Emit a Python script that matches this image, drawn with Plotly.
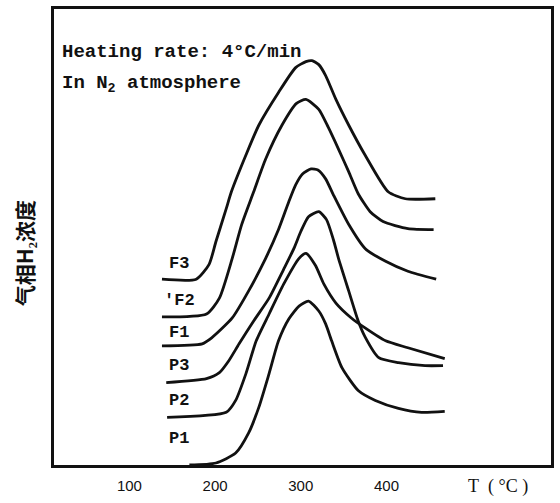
import plotly.graph_objects as go

# ---- data (temperature in °C, signal in arbitrary units) ----
F3_T = [138, 178, 193, 201, 213, 219, 236, 251, 274, 294, 306, 313, 321, 329, 341, 356, 375, 402, 422, 457]
F3_Y = [18.7, 18.7, 20.2, 22.5, 25.8, 27.5, 31.2, 34.2, 37.5, 40.0, 40.6, 40.7, 40.3, 39.2, 36.8, 34.2, 31.2, 27.5, 26.8, 26.8]

F2_T = [138, 190, 205, 220, 231, 245, 259, 278, 295, 306, 321, 332, 344, 356, 367, 381, 396, 425, 455]
F2_Y = [14.9, 15.2, 16.8, 20.8, 24.2, 27.5, 30.8, 34.2, 36.4, 36.8, 35.8, 34.0, 31.8, 29.5, 27.3, 25.5, 24.5, 23.8, 23.7]

F1_T = [138, 185, 196, 220, 239, 259, 274, 286, 294, 302, 312, 320, 329, 338, 356, 375, 399, 425, 458]
F1_Y = [12.0, 12.2, 12.8, 14.8, 17.5, 20.8, 23.7, 26.5, 28.2, 29.3, 29.8, 29.7, 28.8, 27.2, 24.2, 21.8, 20.5, 19.5, 18.7]

P3_T = [143, 190, 205, 216, 228, 245, 263, 280, 292, 300, 309, 321, 330, 338, 344, 356, 367, 375, 391, 414, 445, 466]
P3_Y = [8.3, 8.7, 9.3, 10.5, 12.2, 14.5, 16.8, 19.7, 21.8, 23.5, 25.0, 25.5, 24.7, 22.7, 20.8, 17.5, 14.5, 12.9, 10.8, 10.3, 10.0, 10.0]

P2_T = [144, 213, 224, 236, 248, 263, 280, 298, 306, 317, 327, 341, 359, 375, 399, 425, 468]
P2_Y = [4.8, 5.3, 6.5, 9.2, 12.5, 15.2, 18.2, 20.8, 21.3, 20.1, 18.2, 16.3, 14.8, 13.8, 12.5, 11.8, 10.7]

P1_T = [170, 201, 224, 239, 251, 263, 274, 286, 298, 309, 321, 329, 336, 348, 367, 387, 414, 441, 468]
P1_Y = [0.0, 0.2, 1.2, 3.2, 5.8, 9.2, 12.5, 14.7, 16.0, 16.5, 15.5, 14.2, 12.5, 9.8, 7.5, 6.5, 5.7, 5.3, 5.4]

SERIES_NAMES = ["F3", "F2", "F1", "P3", "P2", "P1"]
CURVE_LABELS = ["F3", "'F2", "F1", "P3", "P2", "P1"]
X_TICKS = [100, 200, 300, 400]
X_TICK_TEXT = ["100", "200", "300", "400"]
X_TITLE = "T&nbsp;&nbsp;(&nbsp;°C&nbsp;)"
Y_TITLE = "气相H₂浓度"
NOTE_LINES = ["Heating rate: 4°C/min", "In N<sub>2</sub> atmosphere"]

series = [(F3_T, F3_Y), (F2_T, F2_Y), (F1_T, F1_Y), (P3_T, P3_Y), (P2_T, P2_Y), (P1_T, P1_Y)]

fig = go.Figure()
for name, (t, y) in zip(SERIES_NAMES, series):
    fig.add_trace(go.Scatter(
        x=t, y=y, mode="lines", name=name,
        line=dict(color="#111111", width=2.8, shape="spline", smoothing=0.6),
        showlegend=False, hoverinfo="x+y+name",
    ))

mono = "Liberation Mono"
ink = "#111111"
# curve labels near the start of each curve
label_shift = [16, 16, 13, 17, 17, 27]
for lab, (t, y), sh in zip(CURVE_LABELS, series, label_shift):
    fig.add_annotation(x=158, y=y[0], xref="x", yref="y", text=f"<b>{lab}</b>",
                       showarrow=False, yshift=sh, xanchor="center", yanchor="middle",
                       font=dict(family=mono, size=17, color=ink))

# note text
fig.add_annotation(x=0.012, y=0.906, xref="paper", yref="paper", text=f"<b>{NOTE_LINES[0]}</b>",
                   showarrow=False, xanchor="left", yanchor="middle",
                   font=dict(family=mono, size=19, color=ink))
fig.add_annotation(x=0.012, y=0.836, xref="paper", yref="paper", text=f"<b>{NOTE_LINES[1]}</b>",
                   showarrow=False, xanchor="left", yanchor="middle",
                   font=dict(family=mono, size=19, color=ink))

# axis titles
fig.add_annotation(x=530, y=0, xref="x", yref="y", text=X_TITLE, showarrow=False,
                   yshift=-21, xanchor="center", yanchor="middle",
                   font=dict(family="Liberation Serif", size=18, color=ink))
fig.add_annotation(x=-0.06, y=0.465, xref="paper", yref="paper", text=f"<b>{Y_TITLE}</b>",
                   showarrow=False, textangle=-90, xanchor="center", yanchor="middle",
                   font=dict(family="Noto Sans CJK SC", size=21, color=ink))

fig.update_xaxes(range=[12, 592], tickvals=X_TICKS, ticktext=X_TICK_TEXT, ticks="",
                 showgrid=False, zeroline=False, showline=True, mirror=True,
                 linecolor=ink, linewidth=3,
                 tickfont=dict(family="Liberation Sans", size=15, color=ink),
                 ticklabelstandoff=5)
fig.update_yaxes(range=[0, 45.9], showticklabels=False, ticks="",
                 showgrid=False, zeroline=False, showline=True, mirror=True,
                 linecolor=ink, linewidth=3)

fig.update_layout(width=560, height=503,
                  margin=dict(l=54, r=7, t=6, b=38),
                  paper_bgcolor="white", plot_bgcolor="white")

fig.write_html("out.html", config={"displayModeBar": False},
               post_script="document.body.style.margin='0';")
